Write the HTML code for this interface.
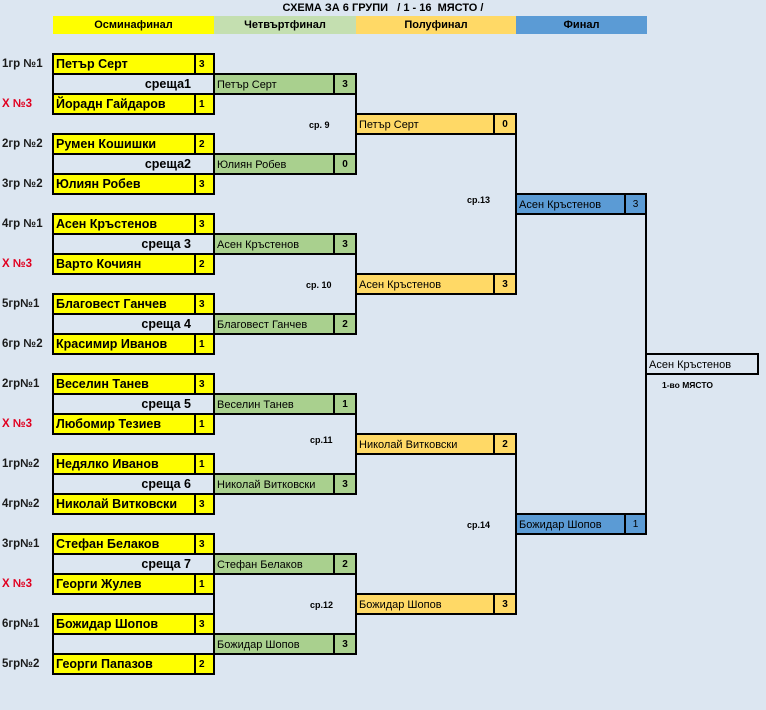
<!DOCTYPE html>
<html><head><meta charset="utf-8">
<style>
body{margin:0;width:766px;height:710px;background:#dce6f1;position:relative;overflow:hidden;font-family:"Liberation Sans","DejaVu Sans",sans-serif;}
.a{position:absolute;}
.b{position:absolute;border:2px solid #000;box-sizing:border-box;height:22px;}
.b .n{position:absolute;left:2px;top:0;line-height:19px;white-space:nowrap;}
.b .s{position:absolute;right:0;top:0;bottom:0;border-left:2px solid #000;font-weight:bold;font-size:10px;line-height:20px;text-align:center;}
.y{background:#ffff00;left:52px;width:163px;}
.y .n{font-weight:bold;font-size:12.5px;}
.y .s{width:19px;text-align:left;padding-left:3px;box-sizing:border-box;}
.m{left:52px;width:163px;}
.m .n{left:auto;right:22px;font-weight:bold;font-size:12.5px;}
.g{background:#a9d08e;left:213px;width:144px;}
.g .n,.o .n,.f .n{font-size:11px;line-height:20px;}
.g .s{width:20px;}
.o{background:#ffd966;left:355px;width:162px;}
.o .s{width:20px;}
.f{background:#5b9bd5;left:515px;width:132px;}
.f .s{width:19px;font-weight:normal;}
.v{position:absolute;width:2px;background:#000;}
.l{position:absolute;left:2px;font-weight:bold;font-size:11.5px;line-height:18px;color:#1a1a1a;}
.r{color:#e00020;}
.c{position:absolute;font-weight:bold;font-size:9px;}
</style></head><body>
<div class="a" style="left:0;width:766px;top:2px;text-align:center;font-weight:bold;font-size:11px;white-space:pre;">СХЕМА ЗА 6 ГРУПИ   / 1 - 16  МЯСТО /</div>
<div class="a" style="left:53px;top:16px;width:161px;height:18px;background:#ffff00;text-align:center;font-weight:bold;font-size:11px;line-height:19px;">Осминафинал</div>
<div class="a" style="left:214px;top:16px;width:142px;height:18px;background:#c4dfb0;text-align:center;font-weight:bold;font-size:11px;line-height:19px;">Четвъртфинал</div>
<div class="a" style="left:356px;top:16px;width:160px;height:18px;background:#ffd966;text-align:center;font-weight:bold;font-size:11px;line-height:19px;">Полуфинал</div>
<div class="a" style="left:516px;top:16px;width:131px;height:18px;background:#5b9bd5;text-align:center;font-weight:bold;font-size:11px;line-height:19px;">Финал</div>

<div class="v" style="left:355px;top:94px;height:60px"></div>
<div class="v" style="left:355px;top:254px;height:60px"></div>
<div class="v" style="left:355px;top:414px;height:60px"></div>
<div class="v" style="left:355px;top:574px;height:60px"></div>
<div class="v" style="left:515px;top:134px;height:140px"></div>
<div class="v" style="left:515px;top:454px;height:140px"></div>
<div class="v" style="left:645px;top:214px;height:300px"></div>
<div class="v" style="left:213px;top:594px;height:20px"></div>

<div class="b m" style="top:73px"><span class="n">среща1</span></div>
<div class="b m" style="top:153px"><span class="n">среща2</span></div>
<div class="b m" style="top:233px"><span class="n">среща 3</span></div>
<div class="b m" style="top:313px"><span class="n">среща 4</span></div>
<div class="b m" style="top:393px"><span class="n">среща 5</span></div>
<div class="b m" style="top:473px"><span class="n">среща 6</span></div>
<div class="b m" style="top:553px"><span class="n">среща 7</span></div>
<div class="b m" style="top:633px"><span class="n"></span></div>

<div class="b y" style="top:53px"><span class="n">Петър Серт</span><span class="s">3</span></div>
<div class="b y" style="top:93px"><span class="n">Йорадн Гайдаров</span><span class="s">1</span></div>
<div class="b y" style="top:133px"><span class="n">Румен Кошишки</span><span class="s">2</span></div>
<div class="b y" style="top:173px"><span class="n">Юлиян Робев</span><span class="s">3</span></div>
<div class="b y" style="top:213px"><span class="n">Асен Кръстенов</span><span class="s">3</span></div>
<div class="b y" style="top:253px"><span class="n">Варто Кочиян</span><span class="s">2</span></div>
<div class="b y" style="top:293px"><span class="n">Благовест Ганчев</span><span class="s">3</span></div>
<div class="b y" style="top:333px"><span class="n">Красимир Иванов</span><span class="s">1</span></div>
<div class="b y" style="top:373px"><span class="n">Веселин Танев</span><span class="s">3</span></div>
<div class="b y" style="top:413px"><span class="n">Любомир Тезиев</span><span class="s">1</span></div>
<div class="b y" style="top:453px"><span class="n">Недялко Иванов</span><span class="s">1</span></div>
<div class="b y" style="top:493px"><span class="n">Николай Витковски</span><span class="s">3</span></div>
<div class="b y" style="top:533px"><span class="n">Стефан Белаков</span><span class="s">3</span></div>
<div class="b y" style="top:573px"><span class="n">Георги Жулев</span><span class="s">1</span></div>
<div class="b y" style="top:613px"><span class="n">Божидар Шопов</span><span class="s">3</span></div>
<div class="b y" style="top:653px"><span class="n">Георги Папазов</span><span class="s">2</span></div>

<div class="b g" style="top:73px"><span class="n">Петър Серт</span><span class="s">3</span></div>
<div class="b g" style="top:153px"><span class="n">Юлиян Робев</span><span class="s">0</span></div>
<div class="b g" style="top:233px"><span class="n">Асен Кръстенов</span><span class="s">3</span></div>
<div class="b g" style="top:313px"><span class="n">Благовест Ганчев</span><span class="s">2</span></div>
<div class="b g" style="top:393px"><span class="n">Веселин Танев</span><span class="s">1</span></div>
<div class="b g" style="top:473px"><span class="n">Николай Витковски</span><span class="s">3</span></div>
<div class="b g" style="top:553px"><span class="n">Стефан Белаков</span><span class="s">2</span></div>
<div class="b g" style="top:633px"><span class="n">Божидар Шопов</span><span class="s">3</span></div>

<div class="b o" style="top:113px"><span class="n">Петър Серт</span><span class="s">0</span></div>
<div class="b o" style="top:273px"><span class="n">Асен Кръстенов</span><span class="s">3</span></div>
<div class="b o" style="top:433px"><span class="n">Николай Витковски</span><span class="s">2</span></div>
<div class="b o" style="top:593px"><span class="n">Божидар Шопов</span><span class="s">3</span></div>

<div class="b f" style="top:193px"><span class="n">Асен Кръстенов</span><span class="s">3</span></div>
<div class="b f" style="top:513px"><span class="n">Божидар Шопов</span><span class="s">1</span></div>

<div class="b" style="left:645px;width:114px;top:353px;background:#dce6f1"><span class="n" style="font-size:11px;line-height:20px">Асен Кръстенов</span></div>
<div class="c" style="left:662px;top:380px;font-size:8.5px">1-во МЯСТО</div>

<div class="c" style="left:309px;top:120px">ср. 9</div>
<div class="c" style="left:306px;top:280px">ср. 10</div>
<div class="c" style="left:310px;top:435px">ср.11</div>
<div class="c" style="left:310px;top:600px">ср.12</div>
<div class="c" style="left:467px;top:195px">ср.13</div>
<div class="c" style="left:467px;top:520px">ср.14</div>

<div class="l" style="top:55px">1гр №1</div>
<div class="l r" style="top:95px">X №3</div>
<div class="l" style="top:135px">2гр №2</div>
<div class="l" style="top:175px">3гр №2</div>
<div class="l" style="top:215px">4гр №1</div>
<div class="l r" style="top:255px">X №3</div>
<div class="l" style="top:295px">5гр№1</div>
<div class="l" style="top:335px">6гр №2</div>
<div class="l" style="top:375px">2гр№1</div>
<div class="l r" style="top:415px">X №3</div>
<div class="l" style="top:455px">1гр№2</div>
<div class="l" style="top:495px">4гр№2</div>
<div class="l" style="top:535px">3гр№1</div>
<div class="l r" style="top:575px">X №3</div>
<div class="l" style="top:615px">6гр№1</div>
<div class="l" style="top:655px">5гр№2</div>
</body></html>
